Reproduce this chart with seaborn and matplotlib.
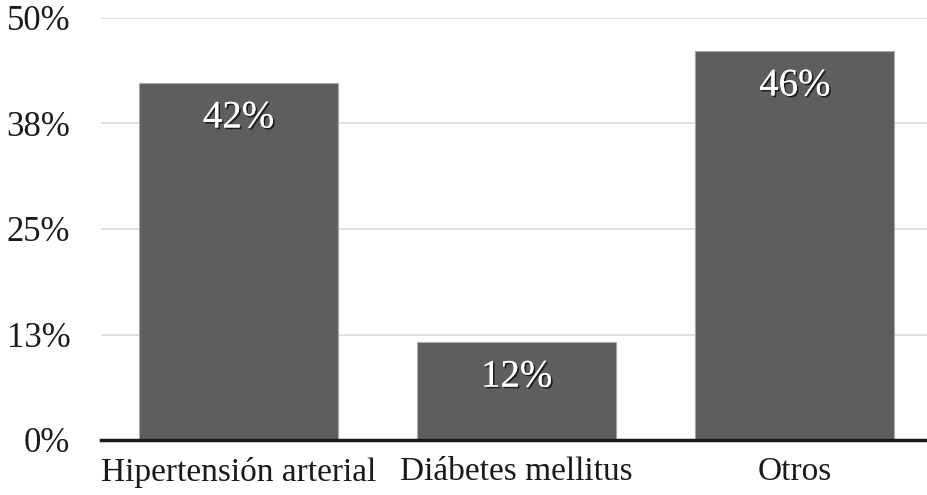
import matplotlib
matplotlib.use("Agg")
import pandas as pd
import seaborn as sns
import matplotlib.pyplot as plt
import matplotlib.patheffects as pe

categories = ["Hipertensión arterial", "Diábetes mellitus", "Otros"]
values = [42.3, 11.6, 46.1]
bar_labels = ["42%", "12%", "46%"]
ytick_vals = [0, 12.5, 25, 37.5, 50]
ytick_labels = ["0%", "13%", "25%", "38%", "50%"]

sns.set_theme(style="white")
plt.rcParams["font.family"] = ["Liberation Serif", "DejaVu Serif"]

df = pd.DataFrame({"cat": categories, "val": values})

fig = plt.figure(figsize=(9.27, 4.95), dpi=100)
ax = fig.add_axes([101 / 927, 1 - 440 / 495, 826 / 927, 422 / 495])

sns.barplot(data=df, x="cat", y="val", color="#5e5e5e", saturation=1,
            width=0.716, edgecolor="#a8a8a8", linewidth=0.8, ax=ax, zorder=3)

ax.set_ylim(0, 50)
ax.set_xlim(-0.495, 2.475)
ax.set_yticks(ytick_vals)
ax.set_yticklabels(ytick_labels, fontsize=25, color="#1a1a1a")
ax.tick_params(axis="x", labelsize=24, colors="#1a1a1a", length=0, pad=12)
ax.tick_params(axis="y", length=0, pad=22)
ax.yaxis.grid(True, color="#d9d9d9", linewidth=1.2, zorder=0)
ax.set_axisbelow(True)
ax.set_xlabel("")
ax.set_ylabel("")
for s in ["top", "right", "left"]:
    ax.spines[s].set_visible(False)
ax.spines["bottom"].set_color("#1a1a1a")
ax.spines["bottom"].set_linewidth(2.5)
ax.spines["bottom"].set_zorder(5)

shadow = [pe.withSimplePatchShadow(offset=(1.2, -1.2), shadow_rgbFace="black", alpha=0.7),
          pe.Normal()]
for i, (v, lab) in enumerate(zip(values, bar_labels)):
    ax.annotate(lab, (i, v), xytext=(0, -35), textcoords="offset pixels",
                ha="center", va="center", fontsize=28, color="white",
                path_effects=shadow, zorder=6)

fig.savefig("out.png", dpi=100)
